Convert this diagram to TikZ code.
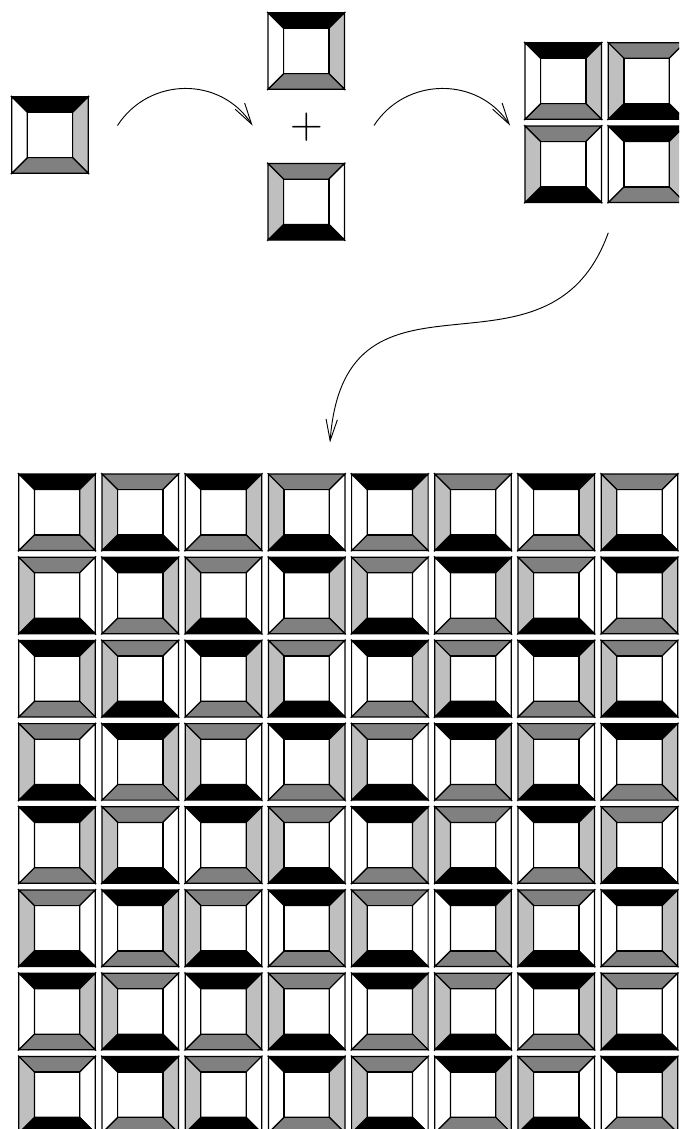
\documentclass[tikz,border=0pt]{standalone}
\usetikzlibrary{arrows.meta}
\newcommand\tilepanels[4]{%
  \filldraw[fill=#1] (0,0)--(76.5,0)--(60.9,15.6)--(15.6,15.6)--cycle;
  \filldraw[fill=#2] (76.5,0)--(76.5,76.5)--(60.9,60.9)--(60.9,15.6)--cycle;
  \filldraw[fill=#3] (76.5,76.5)--(0,76.5)--(15.6,60.9)--(60.9,60.9)--cycle;
  \filldraw[fill=#4] (0,76.5)--(0,0)--(15.6,15.6)--(15.6,60.9)--cycle;
  \draw (15.6,15.6) rectangle (60.9,60.9);
}
\begin{document}
\begin{tikzpicture}[x=0.75pt,y=-0.75pt,line join=miter,line width=0.9pt,
  tileA/.pic={\tilepanels{black}{black!25}{black!50}{white}},
  tileB/.pic={\tilepanels{black!50}{white}{black}{black!25}},
  flow/.style={-{Straight Barb[length=16pt,width=8.5pt]},line width=0.7pt}]
\useasboundingbox (0,0) rectangle (679,1129);
\clip (0,0) rectangle (679,1129);
% single tile
\pic at (11.7,96.7) {tileA};
% pair
\pic at (268,12.7) {tileA};
\node[inner sep=0pt,font=\fontsize{34}{40}\selectfont] (plus) at (306.4,127) {+};
\pic at (268,163.5) {tileB};
% 2x2 block
\pic at (525,42.7) {tileA};
\pic at (608.3,42.7) {tileB};
\pic at (525,126) {tileB};
\pic at (608.3,126) {tileA};
% 8x8 grid
\foreach \r in {0,...,7}{
  \foreach \c in {0,...,7}{
    \ifodd\numexpr\r+\c\relax
      \pic at ({18.8+83.2*\c},{474+83.2*\r}) {tileB};
    \else
      \pic at ({18.8+83.2*\c},{474+83.2*\r}) {tileA};
    \fi
  }
}
% arrows
\coordinate (a1s) at (117.5,125.5);
\coordinate (a1e) at (252.5,125.5);
\coordinate (a2s) at (374,125.5);
\coordinate (a2e) at (510,125.5);
\coordinate (a3s) at (608.3,232.7);
\coordinate (a3e) at (330,442.5);
\draw[flow] (a1s) .. controls +(31.9,-49.1) and +(-31.9,-49.1) .. (a1e);
\draw[flow] (a2s) .. controls +(31.9,-49.1) and +(-31.9,-49.1) .. (a2e);
\draw[flow] (a3s) .. controls +(-60.3,167.3) and +(15,-200.5) .. (a3e);
\end{tikzpicture}
\end{document}
